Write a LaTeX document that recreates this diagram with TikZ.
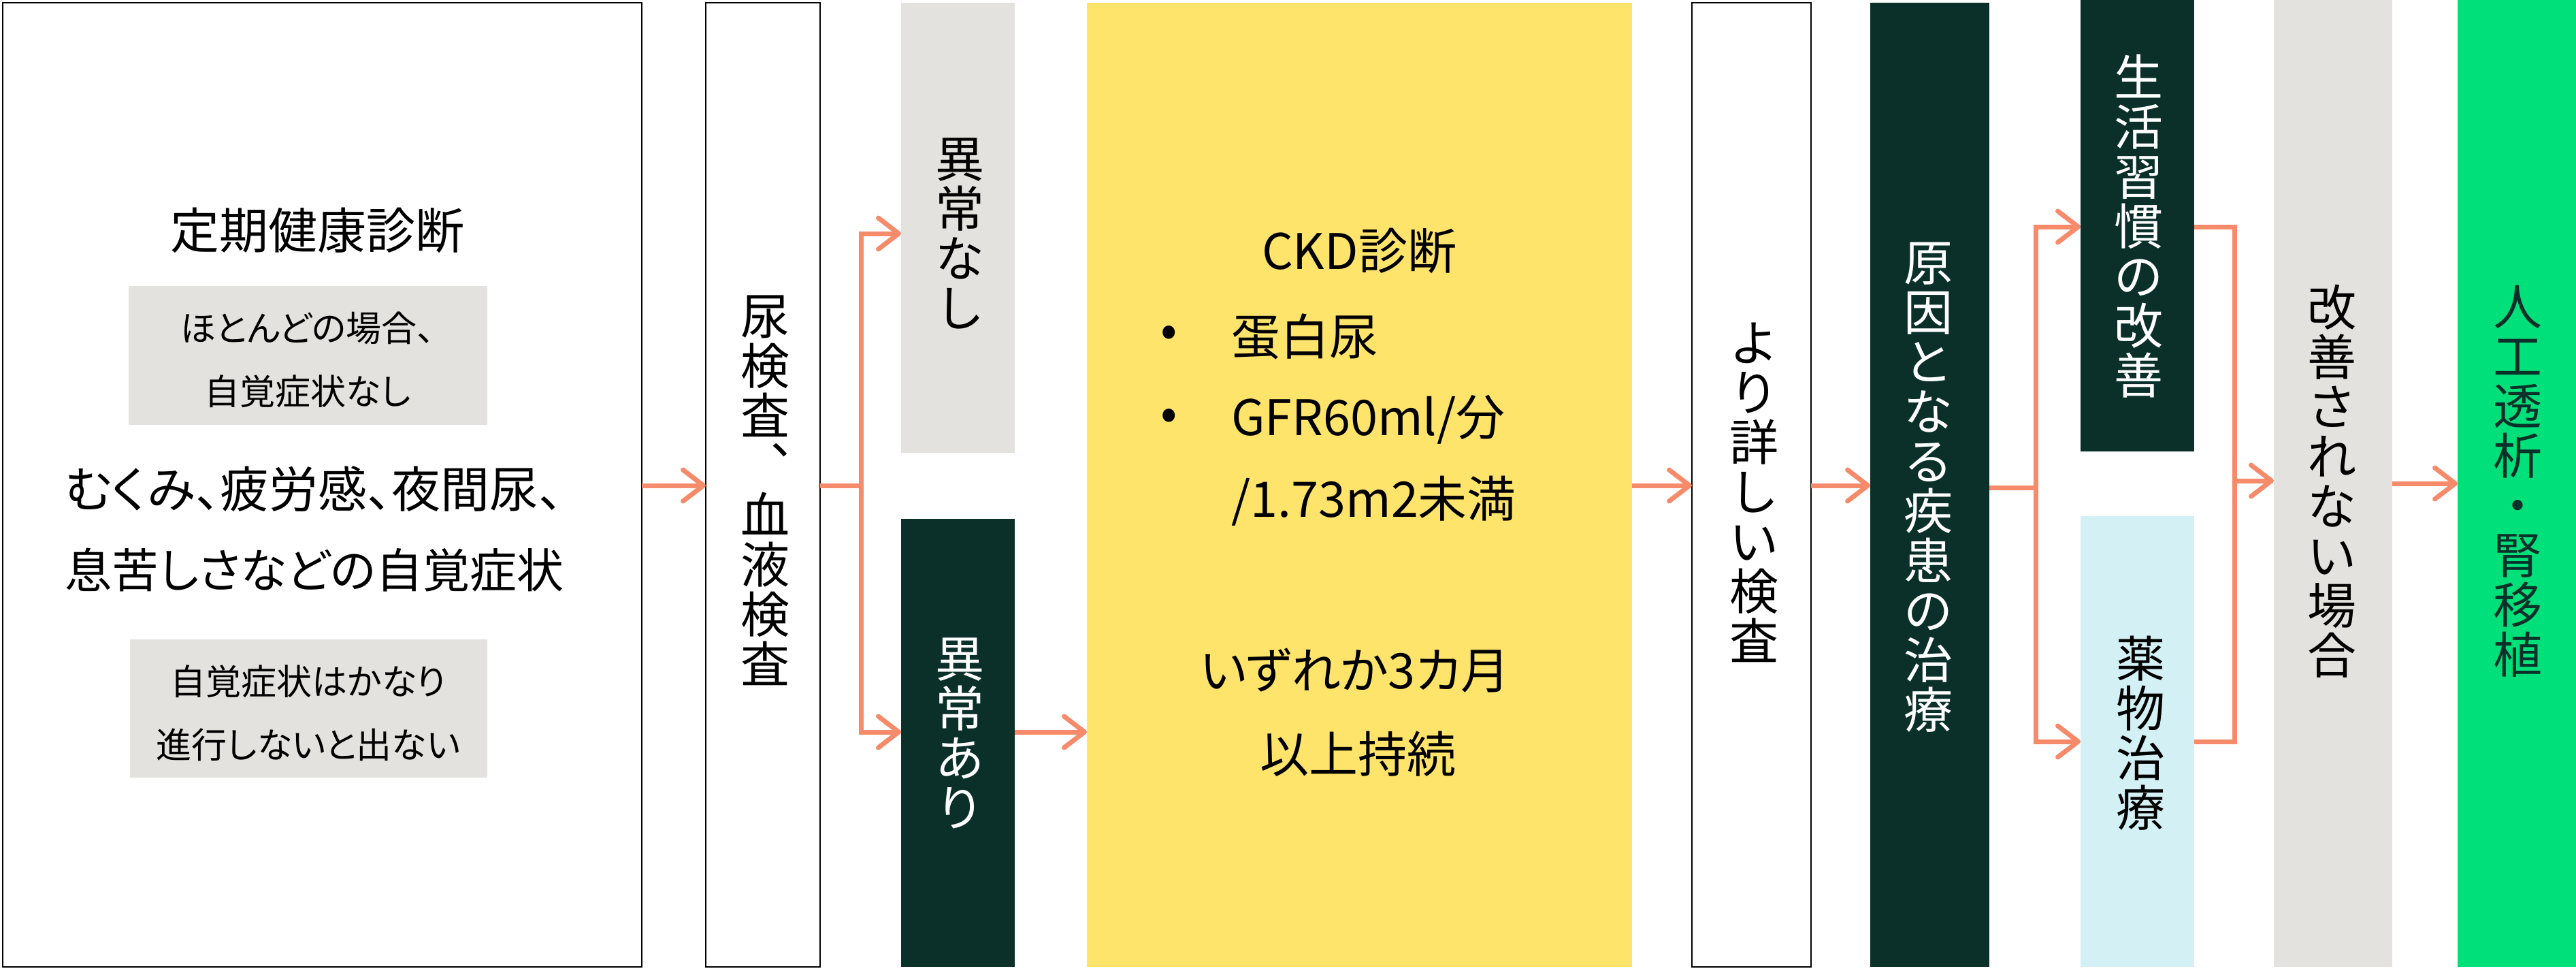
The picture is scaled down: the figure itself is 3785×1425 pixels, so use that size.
\documentclass[tikz,border=0pt]{standalone}
\usepackage{fontspec}
\setmainfont{Noto Sans CJK JP}
\newfontfamily\jpp[RawFeature=+palt]{Noto Sans CJK JP}
\usetikzlibrary{arrows.meta}
\definecolor{dkgreen}{HTML}{0A3029}
\definecolor{lgray}{HTML}{E3E2DE}
\definecolor{yel}{HTML}{FFE46B}
\definecolor{lcyan}{HTML}{D3F0F5}
\definecolor{bgreen}{HTML}{00E07A}
\definecolor{arrc}{HTML}{F58B6B}
\begin{document}
\begin{tikzpicture}[x=1pt,y=-1pt,
  box/.style={rectangle, inner sep=0pt, outer sep=0pt},
  wbox/.style={box, draw=black, line width=2.5pt, fill=white},
  tall/.style={minimum height=1416pt},
  col/.style={minimum width=#1},
  vt/.style={align=center, inner sep=0pt, font=\fontsize{72}{73}\selectfont},
  t72/.style={inner sep=0pt, font=\jpp\fontsize{72}{118}\selectfont, align=center},
  t52/.style={inner sep=0pt, font=\jpp\fontsize{52}{93}\selectfont, align=center},
  ln/.style={draw=arrc, line width=7pt},
  arr/.style={ln, -{Straight Barb[length=30pt,width=46pt,round]}}
]
\useasboundingbox (0,0) rectangle (3785,1425);

% boxes
\node[wbox, tall, col=939pt] (health) at (473.5,712) {};
\node[wbox, tall, col=168pt] (urine) at (1121,712) {};
\node[box, fill=lgray, minimum width=167pt, minimum height=661pt] (normal) at (1407.5,334.5) {};
\node[box, fill=dkgreen, minimum width=167pt, minimum height=658pt] (abn) at (1407.5,1091) {};
\node[box, fill=yel, tall, col=801pt] (ckd) at (1997.5,712) {};
\node[wbox, tall, col=175pt] (detail) at (2573.5,712) {};
\node[box, fill=dkgreen, tall, col=175pt] (cause) at (2835.5,712) {};
\node[box, fill=dkgreen, minimum width=167pt, minimum height=663pt] (life) at (3140.5,331.5) {};
\node[box, fill=lcyan, minimum width=167pt, minimum height=662pt] (drug) at (3140.5,1089) {};
\node[box, fill=lgray, minimum width=174pt, minimum height=1420pt] (notimp) at (3428,710) {};
\node[box, fill=bgreen, minimum width=174pt, minimum height=1420pt] (dial) at (3698,710) {};

% left box content
\node[t72] (title) at (466,338) {定期健康診断};
\node[box, fill=lgray, minimum width=527pt, minimum height=204pt] (g1) at (452.5,522) {};
\node[t52] (g1t) at (452,528) {ほとんどの場合、\\自覚症状なし};
\node[t72] (mainsym) at (462,777) {むくみ、疲労感、夜間尿、\\{\fontsize{69}{118}\selectfont 息苦しさなどの自覚症状}};
\node[box, fill=lgray, minimum width=525pt, minimum height=203pt] (g2) at (453.5,1040.5) {};
\node[t52] (g2t) at (453,1047) {自覚症状はかなり\\進行しないと出ない};

% yellow box content
\node[t72] (ckdt) at (1997,368) {CKD診断};
\node[t72] (bul1) at (1718,494) {•};
\node[t72, anchor=west] (l1) at (1809,494) {蛋白尿};
\node[t72] (bul2) at (1718,616) {•};
\node[t72, anchor=west] (l2) at (1809,616) {GFR60ml/分};
\node[t72, anchor=west] (l3) at (1809,736) {/1.73m2未満};
\node[t72] (l4) at (1991,985) {いずれか3カ月};
\node[t72] (l5) at (1995,1107) {以上持続};

% vertical texts
\node[vt] (urinet) at (1124,720) {尿\\検\\査\\︑\\血\\液\\検\\査};
\node[vt] (normalt) at (1410,343) {異\\常\\な\\し};
\node[vt, text=white] (abnt) at (1410,1077) {異\\常\\あ\\り};
\node[vt] (detailt) at (2577,723) {よ\\り\\詳\\し\\い\\検\\査};
\node[vt, text=white] (causet) at (2833,716) {原\\因\\と\\な\\る\\疾\\患\\の\\治\\療};
\node[vt, text=white] (lifet) at (3142,332) {生\\活\\習\\慣\\の\\改\\善};
\node[vt] (drugt) at (3145,1077) {薬\\物\\治\\療};
\node[vt] (notimpt) at (3426,707) {改\\善\\さ\\れ\\な\\い\\場\\合};
\node[vt, text=dkgreen] (dialt) at (3699,707) {人\\工\\透\\析\\・\\腎\\移\\植};

% connectors
\coordinate (a0) at (0,713);
\coordinate (b1) at (1265,713);
\coordinate (b1t) at (1265,343);
\coordinate (b1b) at (1265,1075);
\coordinate (b2) at (2991,716);
\coordinate (b2t) at (2991,333);
\coordinate (b2b) at (2991,1089);
\coordinate (m1) at (3283,333);
\coordinate (m2) at (3283,1089);
\coordinate (m3) at (3283,706);
\coordinate (a5) at (0,710);

\draw[arr] (health.east |- a0) -- (urine.west |- a0);
\draw[ln] (urine.east |- b1) -- (b1);
\draw[arr] (b1) -- (b1t) -- (normal.west |- b1t);
\draw[arr] (b1) -- (b1b) -- (abn.west |- b1b);
\draw[arr] (abn.east |- b1b) -- (ckd.west |- b1b);
\draw[arr] (ckd.east |- a0) -- (detail.west |- a0);
\draw[arr] (detail.east |- a0) -- (cause.west |- a0);
\draw[ln] (cause.east |- b2) -- (b2);
\draw[arr] (b2) -- (b2t) -- (life.west |- b2t);
\draw[arr] (b2) -- (b2b) -- (drug.west |- b2b);
\draw[ln] (life.east |- m1) -- (m1) -- (m2) -- (drug.east |- m2);
\draw[arr] (m3) -- (notimp.west |- m3);
\draw[arr] (notimp.east |- a5) -- (dial.west |- a5);
\end{tikzpicture}
\end{document}
